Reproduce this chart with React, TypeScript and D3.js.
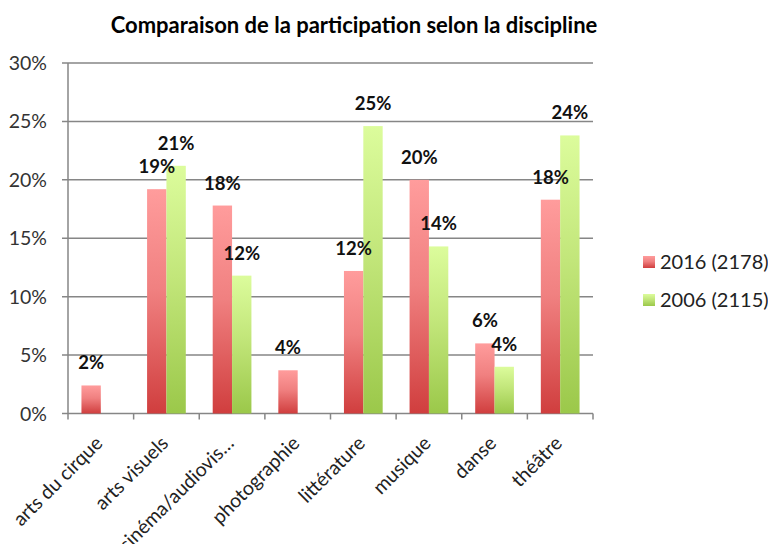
import React from "react";
import * as d3 from "d3";

const categories = ["arts du cirque", "arts visuels", "cinéma/audiovis…", "photographie", "littérature", "musique", "danse", "théâtre"];
const series2016 = [2.4, 19.2, 17.8, 3.7, 12.2, 20.0, 6.0, 18.3];
const series2006: (number | null)[] = [null, 21.2, 11.8, null, 24.6, 14.3, 4.0, 23.8];
const labels2016 = ["2%", "19%", "18%", "4%", "12%", "20%", "6%", "18%"];
const labels2006 = ["", "21%", "12%", "", "25%", "14%", "4%", "24%"];
const yTicks = [0, 5, 10, 15, 20, 25, 30];
const legendNames = ["2016 (2178)", "2006 (2115)"];

const W = 768, H = 544;
const margin = { left: 68, right: 175, top: 63, bottom: 130 };
const font = "Lato, 'Open Sans', sans-serif";

export default function App() {
  const x = d3.scaleBand().domain(categories).range([margin.left, W - margin.right]).paddingInner(0.41).paddingOuter(0.205);
  const x0 = d3.scaleBand().domain(categories).range([margin.left, W - margin.right]);
  const y = d3.scaleLinear().domain([0, 30]).range([H - margin.bottom + 0.5 - 1, margin.top]);
  const bw = x.bandwidth() / 2;
  const axisColor = "#868686";
  const y0 = y(0);
  return (
    <svg width={W} height={H} style={{ position: "absolute", left: 0, top: 0, background: "#fff" }}>
      <defs>
        <linearGradient id="gRed" x1="0" y1="0" x2="0" y2="1">
          <stop offset="0%" stopColor="#ff9c9c" />
          <stop offset="45%" stopColor="#f08080" />
          <stop offset="100%" stopColor="#d03e3e" />
        </linearGradient>
        <linearGradient id="gGreen" x1="0" y1="0" x2="0" y2="1">
          <stop offset="0%" stopColor="#dcfc9c" />
          <stop offset="45%" stopColor="#c2e67a" />
          <stop offset="100%" stopColor="#9bc84a" />
        </linearGradient>
      </defs>
      <text x={354} y={33} textAnchor="middle" fontFamily={font} fontWeight="bold" fontSize={22} fill="#000">
        Comparaison  de la participation  selon la discipline
      </text>
      {yTicks.map((t) => (
        <g key={t}>
          <line x1={margin.left - 6} x2={W - margin.right} y1={y(t)} y2={y(t)} stroke={axisColor} strokeWidth={1.5} />
          <text x={47} y={y(t) + 7} textAnchor="end" fontFamily={font} fontSize={19.5} fill="#333">{t}%</text>
        </g>
      ))}
      <line x1={margin.left} x2={margin.left} y1={margin.top} y2={y0} stroke={axisColor} strokeWidth={1.5} />
      {categories.concat([""]).map((c, i) => {
        const xx = margin.left + i * x0.step();
        return <line key={"t" + i} x1={xx} x2={xx} y1={y0} y2={y0 + 6} stroke={axisColor} strokeWidth={1.5} />;
      })}
      {categories.map((c, i) => {
        const bx = x(c)!;
        const v1 = series2016[i];
        const v2 = series2006[i];
        return (
          <g key={c}>
            <rect x={bx} y={y(v1)} width={bw} height={y0 - y(v1)} fill="url(#gRed)" />
            {v2 != null && <rect x={bx + bw} y={y(v2)} width={bw} height={y0 - y(v2)} fill="url(#gGreen)" />}
            <text x={bx + bw / 2} y={y(v1) - 16} textAnchor="middle" fontFamily={font} fontWeight="bold" fontSize={18.5} fill="#111">{labels2016[i]}</text>
            {v2 != null && <text x={bx + bw * 1.5} y={y(v2) - 16} textAnchor="middle" fontFamily={font} fontWeight="bold" fontSize={18.5} fill="#111">{labels2006[i]}</text>}
            <text transform={`translate(${x0(c)! + x0.bandwidth() / 2 + 3},${y0 + 31}) rotate(-45)`} textAnchor="end" fontFamily={font} fontSize={19.5} fill="#222">{c}</text>
          </g>
        );
      })}
      {legendNames.map((n, i) => (
        <g key={n}>
          <rect x={643} y={256 + i * 38} width={12} height={12} fill={i === 0 ? "url(#gRed)" : "url(#gGreen)"} />
          <text x={660} y={269 + i * 38} fontFamily={font} fontSize={20} fill="#222">{n}</text>
        </g>
      ))}
    </svg>
  );
}
